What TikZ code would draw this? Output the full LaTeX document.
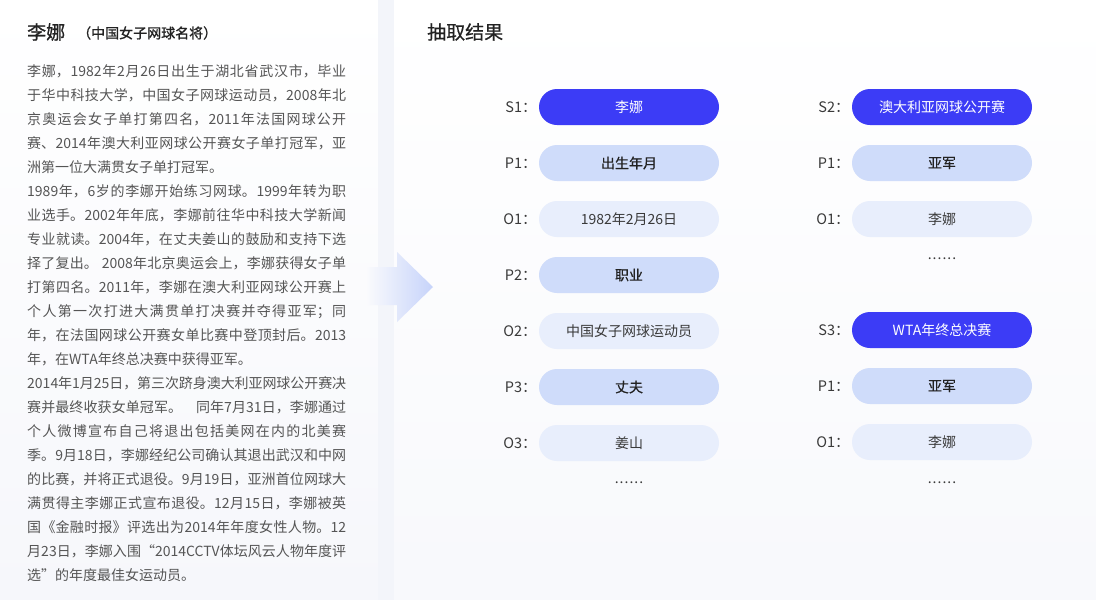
\documentclass[tikz,border=0pt]{standalone}
\usepackage{fontspec}
\setmainfont{Noto Sans CJK SC}
\newfontfamily\medfont{Noto Sans CJK SC}[FakeBold=0.5]
\newfontfamily\semifont{Noto Sans CJK SC}[FakeBold=1.0]
\XeTeXlinebreaklocale "zh"
\XeTeXlinebreakskip=0pt plus 3pt minus 0.4pt
\definecolor{dark}{HTML}{3C3CF6}
\definecolor{mid}{HTML}{CFDCFA}
\definecolor{light}{HTML}{E8EEFC}
\definecolor{bodytxt}{HTML}{555555}
\definecolor{labtxt}{HTML}{3A3A3A}
\definecolor{heading}{HTML}{222222}
\definecolor{panelbot}{HTML}{F6F7FB}
\definecolor{strip}{HTML}{F3F5FA}
\definecolor{arrowend}{HTML}{C6D3FA}
\tikzset{
  pill/.style={rounded corners=18pt, minimum width=180pt, minimum height=36pt, inner sep=0pt},
  spill/.style={pill, fill=dark, text=white, font=\fontsize{14}{14}\selectfont},
  ppill/.style={pill, fill=mid, text=heading, font=\medfont\fontsize{14}{14}\selectfont},
  opill/.style={pill, fill=light, text=labtxt, font=\fontsize{14}{14}\selectfont},
  lab/.style={anchor=east, inner sep=0pt, text=labtxt, font=\fontsize{14.5}{14}\selectfont},
  dots/.style={inner sep=0pt, text=labtxt, font=\fontsize{14}{14}\selectfont},
}
\begin{document}
\begin{tikzpicture}[x=1pt,y=-1pt]
\useasboundingbox (0,0) rectangle (1096,600);
% panels
\shade[top color=white, bottom color=panelbot] (0,0) rectangle (378,600);
\fill[strip] (378,0) rectangle (394,600);
\shade[top color=white, bottom color=panelbot!80] (394,0) rectangle (1096,600);
% arrow
\shade[left color=panelbot!60, right color=arrowend]
  (367,267) -- (397,267) -- (397,252) -- (433,287) -- (397,322) -- (397,305) -- (367,305) -- cycle;
% left panel text
\node[anchor=west, inner sep=0pt, text=heading, font=\semifont\fontsize{19}{19}\selectfont] (name) at (27,32) {李娜};
\node[anchor=west, inner sep=0pt, text=heading, font=\semifont\fontsize{14}{14}\selectfont] (sub) at (77,33) {（中国女子网球名将）};
\node[anchor=base west, inner sep=0pt, text width=319pt, align=justify, text=bodytxt,
      font=\fontsize{14}{24}\selectfont] (body) at (27,76) {%
\tolerance=10000\hbadness=10000\parindent=0pt\parskip=0pt
李娜，1982年2月26日出生于湖北省武汉市，毕业\linebreak
于华中科技大学，中国女子网球运动员，2008年北\linebreak
京奥运会女子单打第四名，2011年法国网球公开\linebreak
赛、2014年澳大利亚网球公开赛女子单打冠军，亚\linebreak
洲第一位大满贯女子单打冠军。\par
1989年，6岁的李娜开始练习网球。1999年转为职\linebreak
业选手。2002年年底，李娜前往华中科技大学新闻\linebreak
专业就读。2004年，在丈夫姜山的鼓励和支持下选\linebreak
择了复出。\hspace{4pt}2008年北京奥运会上，李娜获得女子单\linebreak
打第四名。2011年，李娜在澳大利亚网球公开赛上\linebreak
个人第一次打进大满贯单打决赛并夺得亚军；同\linebreak
年，在法国网球公开赛女单比赛中登顶封后。2013\linebreak
年，在WTA年终总决赛中获得亚军。\par
2014年1月25日，第三次跻身澳大利亚网球公开赛决\linebreak
赛并最终收获女单冠军。\hspace{14pt}同年7月31日，李娜通过\linebreak
个人微博宣布自己将退出包括美网在内的北美赛\linebreak
季。9月18日，李娜经纪公司确认其退出武汉和中网\linebreak
的比赛，并将正式退役。9月19日，亚洲首位网球大\linebreak
满贯得主李娜正式宣布退役。12月15日，李娜被英\linebreak
国《金融时报》评选出为2014年年度女性人物。12\linebreak
月23日，李娜入围“2014CCTV体坛风云人物年度评\linebreak
选”的年度最佳女运动员。\par};
% right panel title
\node[anchor=west, inner sep=0pt, text=heading, font=\medfont\fontsize{19}{19}\selectfont] (title) at (427,32) {抽取结果};
% left column
\node[spill] (s1) at (629,107) {李娜};
\node[ppill] (p1a) at (629,163) {出生年月};
\node[opill] (o1a) at (629,219) {1982年2月26日};
\node[ppill] (p2a) at (629,275) {职业};
\node[opill] (o2a) at (629,331) {中国女子网球运动员};
\node[ppill] (p3a) at (629,387) {丈夫};
\node[opill] (o3a) at (629,443) {姜山};
\node[dots] (da) at (629,483) {.\kern1pt.\kern1pt.\kern1pt.\kern1pt.\kern1pt.};
\node[lab] (s1l) at ([xshift=-2pt]s1.west) {S1：};
\node[lab] (p1al) at ([xshift=-2pt]p1a.west) {P1：};
\node[lab] (o1al) at ([xshift=-2pt]o1a.west) {O1：};
\node[lab] (p2al) at ([xshift=-2pt]p2a.west) {P2：};
\node[lab] (o2al) at ([xshift=-2pt]o2a.west) {O2：};
\node[lab] (p3al) at ([xshift=-2pt]p3a.west) {P3：};
\node[lab] (o3al) at ([xshift=-2pt]o3a.west) {O3：};
% right column
\node[spill] (s2) at (942,107) {澳大利亚网球公开赛};
\node[ppill] (p1b) at (942,163) {亚军};
\node[opill] (o1b) at (942,219) {李娜};
\node[dots] (db) at (942,259) {.\kern1pt.\kern1pt.\kern1pt.\kern1pt.\kern1pt.};
\node[spill] (s3) at (942,330) {WTA年终总决赛};
\node[ppill] (p1c) at (942,386) {亚军};
\node[opill] (o1c) at (942,442) {李娜};
\node[dots] (dc) at (942,483) {.\kern1pt.\kern1pt.\kern1pt.\kern1pt.\kern1pt.};
\node[lab] (s2l) at ([xshift=-2pt]s2.west) {S2：};
\node[lab] (p1bl) at ([xshift=-2pt]p1b.west) {P1：};
\node[lab] (o1bl) at ([xshift=-2pt]o1b.west) {O1：};
\node[lab] (s3l) at ([xshift=-2pt]s3.west) {S3：};
\node[lab] (p1cl) at ([xshift=-2pt]p1c.west) {P1：};
\node[lab] (o1cl) at ([xshift=-2pt]o1c.west) {O1：};
\end{tikzpicture}
\end{document}
